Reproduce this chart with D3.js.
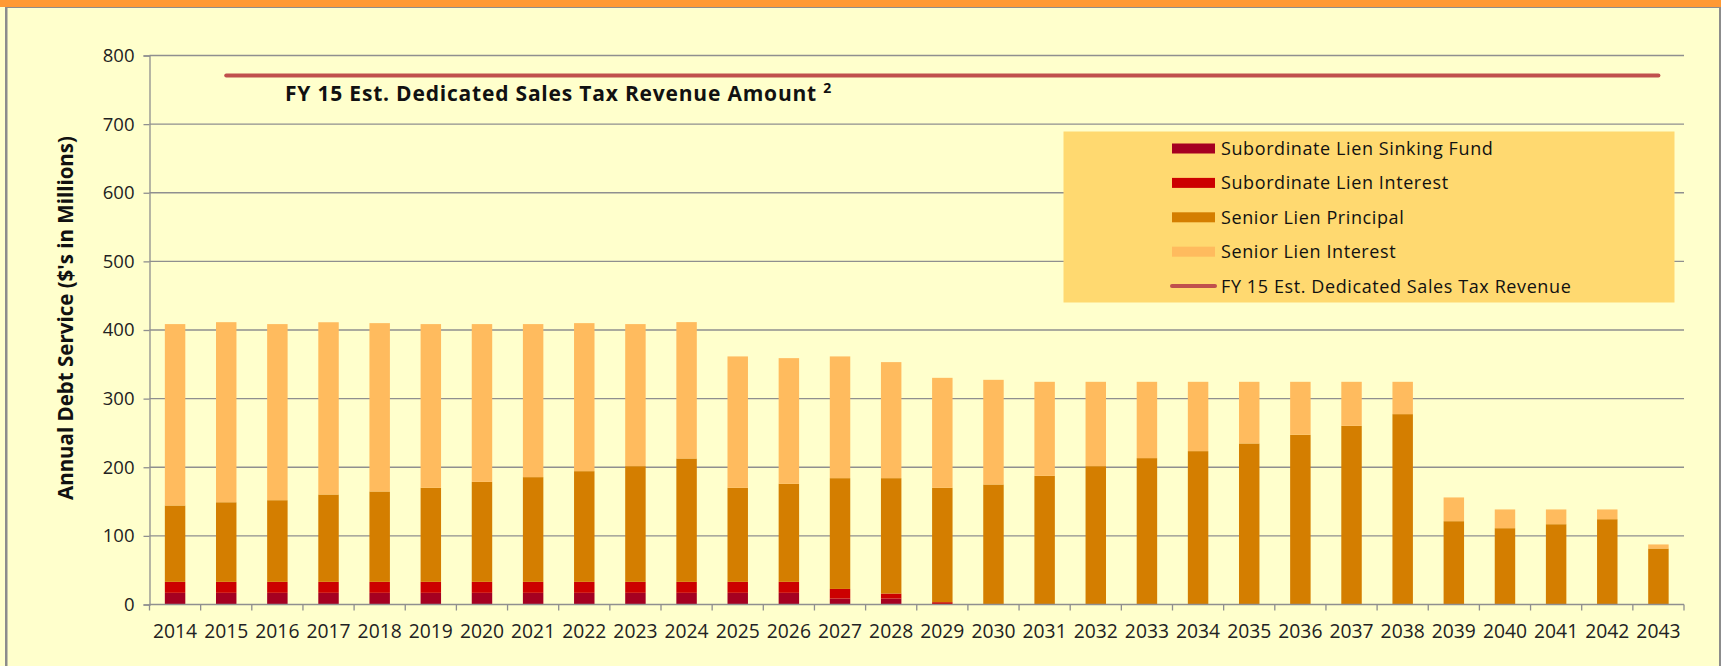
<!DOCTYPE html>
<html>
<head>
<meta charset="utf-8">
<script src="https://cdn.jsdelivr.net/npm/d3@7"></script>
<style>
  body { margin: 0; background: #ffffcc; }
  svg { display: block; font-family: "Open Sans", Lato, sans-serif; }
</style>
</head>
<body>
<svg width="1721" height="666"></svg>
<script>
var years = ["2014","2015","2016","2017","2018","2019","2020","2021","2022","2023",
             "2024","2025","2026","2027","2028","2029","2030","2031","2032","2033",
             "2034","2035","2036","2037","2038","2039","2040","2041","2042","2043"];
var sinkingFund = [17,17,17,17,17,17,17,17,17,17, 17,17,17,8.7,8.7,0,0,0,0,0, 0,0,0,0,0,0,0,0,0,0];
var subInterest = [16,16,16,16,16,16,16,16,16,16, 16,16,16,14,7.3,3.4,0,0,0,0, 0,0,0,0,0,0,0,0,0,0];
var seniorPrincipal = [111.3,116,119,127.3,131.7,137,145.7,152.6,161.3,168.6,
                       179.8,137,142.8,161.4,168.1,166.6,174.9,187.5,201.6,213.3,
                       223.5,234.7,247.3,260.4,277.4,121.4,111.2,117,124.3,81.6];
var seniorInterest = [264.3,262.4,256.6,251,245.3,238.6,229.9,223,215.7,207,
                      198.7,191.5,183.2,177.4,169.1,160.3,152.5,137,122.9,111.2,
                      101,89.8,77.2,64.1,47.1,34.6,27.3,21.5,14.2,5.9];
var revenueYears = years.slice(1);
var revenue = 771;
var yTicks = [0,100,200,300,400,500,600,700,800];

var seriesKeys = ["sink","subInt","senPrin","senInt"];
var seriesNames = ["Subordinate Lien Sinking Fund","Subordinate Lien Interest","Senior Lien Principal","Senior Lien Interest"];
var seriesColors = ["#a50021","#cc0000","#d47e00","#ffbb5e"];

var rows = years.map(function(y, i) {
  return { year: y, sink: sinkingFund[i], subInt: subInterest[i], senPrin: seniorPrincipal[i], senInt: seniorInterest[i] };
});

var svg = d3.select("svg");
var W = 1721, H = 666;
var plotL = 149.5, plotR = 1684, plotT = 55.5, plotB = 604.5;

// frame
svg.append("rect").attr("width", W).attr("height", H).attr("fill", "#ffffcc");
svg.append("rect").attr("width", W).attr("height", 7).attr("fill", "#ff9933");
svg.append("line").attr("x1", 5).attr("x2", W).attr("y1", 7.5).attr("y2", 7.5).attr("stroke", "#8c8c8c").attr("stroke-width", 1);
svg.append("rect").attr("x", 5).attr("y", 7).attr("width", 2.5).attr("height", H).attr("fill", "#8c8c8c");
svg.append("rect").attr("x", 1719).attr("y", 7).attr("width", 2).attr("height", H).attr("fill", "#8c8c8c");

var x = d3.scaleBand().domain(years).range([plotL, plotR]).paddingInner(0.6).paddingOuter(0.3);
var xCenter = function(d) { return x(d) + x.bandwidth() / 2; };
var y = d3.scaleLinear().domain([0, 800]).range([plotB, plotT]);

// gridlines
svg.append("g").selectAll("line").data(yTicks.slice(1)).enter().append("line")
  .attr("x1", plotL).attr("x2", plotR)
  .attr("y1", function(d) { return y(d); }).attr("y2", function(d) { return y(d); })
  .attr("stroke", "#8f8f8f").attr("stroke-width", 1.3);

// y axis
var yAxis = svg.append("g").attr("transform", "translate(" + plotL + ",0)")
  .call(d3.axisLeft(y).tickValues(yTicks).tickSize(6).tickPadding(9));
yAxis.selectAll("path, line").attr("stroke", "#8f8f8f").attr("stroke-width", 1.3);
yAxis.selectAll("text").attr("font-size", 18.5).attr("fill", "#222").attr("font-family", "Open Sans");

// bars
var stack = d3.stack().keys(seriesKeys)(rows);
svg.append("g").selectAll("g").data(stack).enter().append("g")
  .attr("fill", function(d, i) { return seriesColors[i]; })
  .selectAll("rect").data(function(d) { return d; }).enter().append("rect")
  .attr("x", function(d) { return x(d.data.year); })
  .attr("width", x.bandwidth())
  .attr("y", function(d) { return y(d[1]); })
  .attr("height", function(d) { return y(d[0]) - y(d[1]); });

// x axis
var xBoundary = d3.scaleLinear().domain([0, years.length]).range([plotL, plotR]);
var xAxis = svg.append("g").attr("transform", "translate(0," + plotB + ")");
xAxis.append("line").attr("x1", plotL).attr("x2", plotR).attr("stroke", "#8f8f8f").attr("stroke-width", 1.3);
xAxis.selectAll(".tk").data(d3.range(years.length + 1)).enter().append("line")
  .attr("x1", function(d) { return xBoundary(d); }).attr("x2", function(d) { return xBoundary(d); })
  .attr("y1", 0).attr("y2", 6).attr("stroke", "#8f8f8f").attr("stroke-width", 1.3);
xAxis.selectAll("text").data(years).enter().append("text")
  .attr("x", xCenter).attr("y", 33)
  .attr("text-anchor", "middle").attr("font-size", 19.3).attr("fill", "#222")
  .text(function(d) { return d; });

// revenue line
svg.append("path")
  .datum(revenueYears)
  .attr("fill", "none").attr("stroke", "#c0504d").attr("stroke-width", 4).attr("stroke-linecap", "round")
  .attr("d", d3.line().x(xCenter).y(function() { return y(revenue); }));

var lbl = svg.append("text").attr("x", 285).attr("y", 101)
  .attr("font-size", 21).attr("letter-spacing", 0.8).attr("font-weight", "bold").attr("fill", "#111");
lbl.append("tspan").text("FY 15 Est. Dedicated Sales Tax Revenue Amount ");
lbl.append("tspan").attr("font-size", 14).attr("dy", -8).text("2");

// y title
svg.append("text")
  .attr("transform", "translate(73,318) rotate(-90)")
  .attr("text-anchor", "middle").attr("font-size", 20.5).attr("font-weight", "bold").attr("fill", "#111")
  .text("Annual Debt Service ($'s in Millions)");

// legend
var lg = svg.append("g");
lg.append("rect").attr("x", 1063.5).attr("y", 131.5).attr("width", 611).attr("height", 171).attr("fill", "#ffd970");
var legendNames = seriesNames.concat(["FY 15 Est. Dedicated Sales Tax Revenue"]);
var item = lg.selectAll("g").data(legendNames).enter().append("g")
  .attr("transform", function(d, i) { return "translate(1172," + (148.5 + i * 34.4) + ")"; });
item.filter(function(d, i) { return i < 4; }).append("rect")
  .attr("x", 0).attr("y", -5).attr("width", 43).attr("height", 10)
  .attr("fill", function(d, i) { return seriesColors[i]; });
item.filter(function(d, i) { return i === 4; }).append("line")
  .attr("x1", 0).attr("x2", 43).attr("stroke", "#c0504d").attr("stroke-width", 4).attr("stroke-linecap", "round");
item.append("text").attr("x", 49).attr("y", 6.5).attr("font-size", 18).attr("letter-spacing", 0.6).attr("fill", "#111")
  .text(function(d) { return d; });
</script>
</body>
</html>
